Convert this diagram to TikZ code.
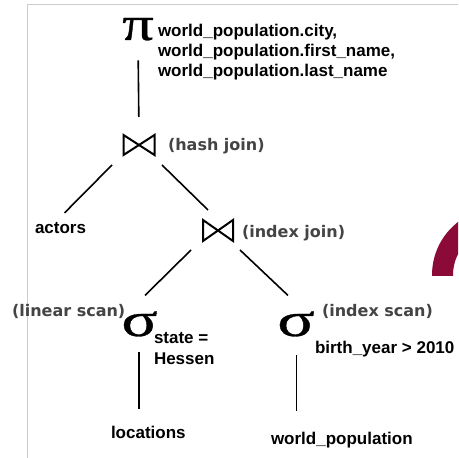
\documentclass[tikz,border=0pt]{standalone}
\usepackage{graphicx}
\usepackage{fontspec}
\setmainfont{Liberation Sans}
\newfontfamily\lblfont{DejaVu Sans}
\newfontfamily\greekfont[FakeBold=0.6]{Liberation Serif}
\usetikzlibrary{calc}
\definecolor{lblgray}{RGB}{68,68,68}
\definecolor{framegray}{RGB}{204,204,204}
\definecolor{crimson}{RGB}{140,10,55}
\begin{document}
\begin{tikzpicture}[x=1bp,y=-1bp,
  txt/.style={inner sep=0pt, outer sep=0pt, anchor=base west, font=\bfseries\fontsize{17bp}{20bp}\selectfont, text=black},
  lbl/.style={inner sep=0pt, outer sep=0pt, anchor=base west, font=\lblfont\bfseries\fontsize{16bp}{19bp}\selectfont, text=lblgray},
  greek/.style={inner sep=0pt, outer sep=0pt, anchor=base, font=\greekfont\fontsize{48bp}{48bp}\selectfont},
  joinbox/.style={inner sep=0pt, outer sep=0pt, minimum width=31bp, minimum height=20bp},
  bowtie/.style={line width=2bp},
  edge/.style={line width=1.6bp},
  framel/.style={draw=framegray, line width=1bp}]
\useasboundingbox (0,0) rectangle (458,458);
\fill[white] (0,0) rectangle (458,458);
% frame
\draw[framel] (27,458) -- (27,5) -- (458,5);
% crimson arc
\begin{scope}
  \clip (0,0) rectangle (458,275);
  \fill[crimson, even odd rule] (499,275) circle[radius=67] (499,275) circle[radius=46];
\end{scope}
% projection
\node[greek] (pi) at (138,40) {\scalebox{1.3}[1]{π}};
\node[txt] (proj1) at (158,37) {world\_population.city,};
\node[txt] (proj2) at (158,57) {world\_population.first\_name,};
\node[txt] (proj3) at (158,77) {world\_population.last\_name};
% hash join
\node[joinbox] (hj) at (139,145) {};
\draw[bowtie] (hj.north west) -- (hj.south west) -- (hj.north east) -- (hj.south east) -- cycle;
\node[lbl] (hjl) at (168,151) {(hash join)};
% actors
\node[txt] (actors) at (35,233) {actors};
% index join
\node[joinbox, minimum width=30bp, minimum height=21bp] (ij) at (218,230.5) {};
\draw[bowtie] (ij.north west) -- (ij.south west) -- (ij.north east) -- (ij.south east) -- cycle;
\node[lbl] (ijl) at (242,237) {(index join)};
% left selection
\node[greek] (sl) at (139.5,336) {\scalebox{1.4}[1]{σ}};
\node[txt] (slc1) at (154,343) {state =};
\node[txt] (slc2) at (154,364) {Hessen};
\node[lbl] (sll) at (12,316) {(linear scan)};
% right selection
\node[greek] (sr) at (296,336) {\scalebox{1.45}[1]{σ}};
\node[txt] (src) at (315,353) {birth\_year > 2010};
\node[lbl] (srl) at (322,316) {(index scan)};
% leaves
\node[txt] (loc) at (111,438) {locations};
\node[txt] (wp) at (271,444) {world\_population};
% connectors
\draw[edge, shorten <=20bp, shorten >=18bp] (pi.south) -- (hj.north);
\draw[edge] ($(hj.south west)+(-11.5,10)$) -- ($(actors.north)+(4,-9)$);
\draw[edge] ($(hj.south east)+(7.5,10)$) -- ($(ij.north)+(-10,-10)$);
\draw[edge] ($(ij.south west)+(-12,9)$) -- ($(sl.north)+(5.5,-16)$);
\draw[edge] ($(ij.south east)+(7,9)$) -- ($(sr.north)+(-8,-16)$);
\draw[edge] ($(sl.south)+(-0.5,16)$) -- ($(loc.north west)+(28,-16.5)$);
\draw[edge] ($(sr.south)+(0.5,19)$) -- ($(wp.north west)+(25.5,-20.5)$);
\end{tikzpicture}
\end{document}
